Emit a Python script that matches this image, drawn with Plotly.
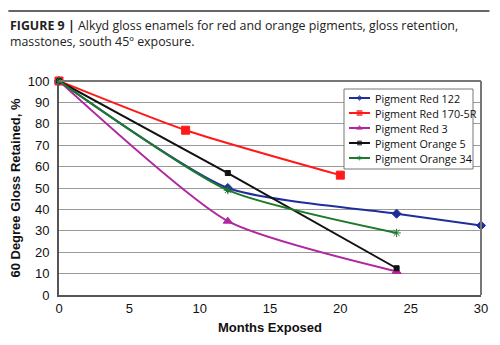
import plotly.graph_objects as go

# Gloss retention (%) versus months of exposure
months_red122 = [0, 12, 24, 30]
gloss_red122 = [100, 50, 38, 32.5]

months_red170 = [0, 9, 20]
gloss_red170 = [100, 77, 56]

months_red3 = [0, 12, 24]
gloss_red3 = [100, 34.5, 11]

months_orange5 = [0, 12, 24]
gloss_orange5 = [100, 57, 12.5]

months_orange34 = [0, 12, 24]
gloss_orange34 = [100, 49, 29]

series = [
    ("Pigment Red 122", months_red122, gloss_red122, "#1f2f9a", "diamond", 7),
    ("Pigment Red 170-5R", months_red170, gloss_red170, "#ff1a1a", "square", 8),
    ("Pigment Red 3", months_red3, gloss_red3, "#b0279f", "triangle-up", 8),
    ("Pigment Orange 5", months_orange5, gloss_orange5, "#111111", "square", 5),
    ("Pigment Orange 34", months_orange34, gloss_orange34, "#1d7a2a", "asterisk-open", 7),
]

X_RANGE = [0, 30]
Y_RANGE = [0, 100]
PLOT_L, PLOT_R, PLOT_T, PLOT_B = 59, 481, 81, 295  # plot area in page pixels

fig = go.Figure()
for name, xs, ys, color, symbol, size in series:
    fig.add_trace(go.Scatter(
        x=xs, y=ys, name=name, mode="lines+markers", showlegend=False,
        line=dict(color=color, width=2, shape="spline", smoothing=0.6),
        marker=dict(symbol=symbol, size=size, color=color,
                    line=dict(color=color, width=1)),
        cliponaxis=False,
    ))

# Compact key, laid out in page pixels; the swatches sit on an overlay axis
# pair (x2/y2) whose ranges are the plot area's pixel extents.
key_left, key_right, key_top, key_bottom = 344, 473, 89, 169
row_first, row_step = 98, 15
swatch_x0, swatch_x1, text_x = 349, 370, 373


def px_to_x(px):
    return X_RANGE[0] + (px - PLOT_L) / (PLOT_R - PLOT_L) * (X_RANGE[1] - X_RANGE[0])


def px_to_y(py):
    return Y_RANGE[1] - (py - PLOT_T) / (PLOT_B - PLOT_T) * (Y_RANGE[1] - Y_RANGE[0])


annotations = [
    dict(xref="paper", yref="paper", x=-0.122, y=1.26, xanchor="left", yanchor="middle",
         showarrow=False, align="left",
         text="<b>FIGURE 9 |</b> Alkyd gloss enamels for red and orange pigments, gloss retention,",
         font=dict(family="Open Sans, sans-serif", size=12.4, color="#222")),
    dict(xref="paper", yref="paper", x=-0.122, y=1.185, xanchor="left", yanchor="middle",
         showarrow=False, align="left",
         text="masstones, south 45º exposure.",
         font=dict(family="Open Sans, sans-serif", size=12.4, color="#222")),
]

for i, (name, xs, ys, color, symbol, size) in enumerate(series):
    row_y = row_first + i * row_step
    mid = (swatch_x0 + swatch_x1) / 2
    fig.add_trace(go.Scatter(
        x=[swatch_x0, mid, swatch_x1], y=[row_y] * 3,
        xaxis="x2", yaxis="y2", mode="lines+markers", showlegend=False,
        hoverinfo="skip",
        line=dict(color=color, width=2),
        marker=dict(symbol=symbol, size=[0, max(size - 3, 4), 0], color=color,
                    line=dict(color=color, width=1)),
        cliponaxis=False,
    ))
    annotations.append(dict(
        xref="x2", yref="y2", x=text_x, y=row_y, xanchor="left", yanchor="middle",
        showarrow=False, text=name,
        font=dict(family="Open Sans, sans-serif", size=10.8, color="#111"),
    ))

fig.update_layout(
    width=500, height=345,
    margin=dict(l=PLOT_L, r=500 - PLOT_R, t=PLOT_T, b=345 - PLOT_B, autoexpand=False),
    paper_bgcolor="white", plot_bgcolor="white",
    font=dict(family="Liberation Sans, Arial, sans-serif", size=13, color="#111"),
    showlegend=False,
    xaxis=dict(
        range=X_RANGE, tickvals=[0, 5, 10, 15, 20, 25, 30],
        showgrid=False, zeroline=False,
        showline=True, linecolor="#555", linewidth=2, mirror=False,
        ticks="", tickfont=dict(size=13),
        title=dict(text="<b>Months Exposed</b>", font=dict(size=13), standoff=8),
    ),
    yaxis=dict(
        range=Y_RANGE, tickvals=list(range(0, 101, 10)),
        showgrid=True, gridcolor="#9a9a9a", gridwidth=1, zeroline=False,
        showline=True, linecolor="#555", linewidth=2,
        ticks="outside", ticklen=5, tickcolor="rgba(0,0,0,0)", tickfont=dict(size=13),
        title=dict(text="<b>60 Degree Gloss Retained, %</b>", font=dict(size=13), standoff=4),
    ),
    xaxis2=dict(overlaying="x", range=[PLOT_L, PLOT_R], visible=False, fixedrange=True),
    yaxis2=dict(overlaying="y", range=[PLOT_B, PLOT_T], visible=False, fixedrange=True),
    shapes=[
        # rule above the caption
        dict(type="line", xref="paper", yref="paper", x0=-0.12, x1=1.02,
             y0=1.327, y1=1.327, line=dict(color="#333", width=1.5)),
        # gray frame on top and right of the plot
        dict(type="line", xref="paper", yref="paper", x0=0, x1=1, y0=1, y1=1,
             line=dict(color="#777", width=2)),
        dict(type="line", xref="paper", yref="paper", x0=1, x1=1, y0=0, y1=1,
             line=dict(color="#777", width=2)),
        # key box: above the gridlines, below the swatches
        dict(type="rect", xref="x", yref="y",
             x0=px_to_x(key_left), x1=px_to_x(key_right),
             y0=px_to_y(key_top), y1=px_to_y(key_bottom), layer="between",
             fillcolor="white", line=dict(color="#777", width=1)),
    ],
    annotations=annotations,
)

fig.write_html("out.html")
